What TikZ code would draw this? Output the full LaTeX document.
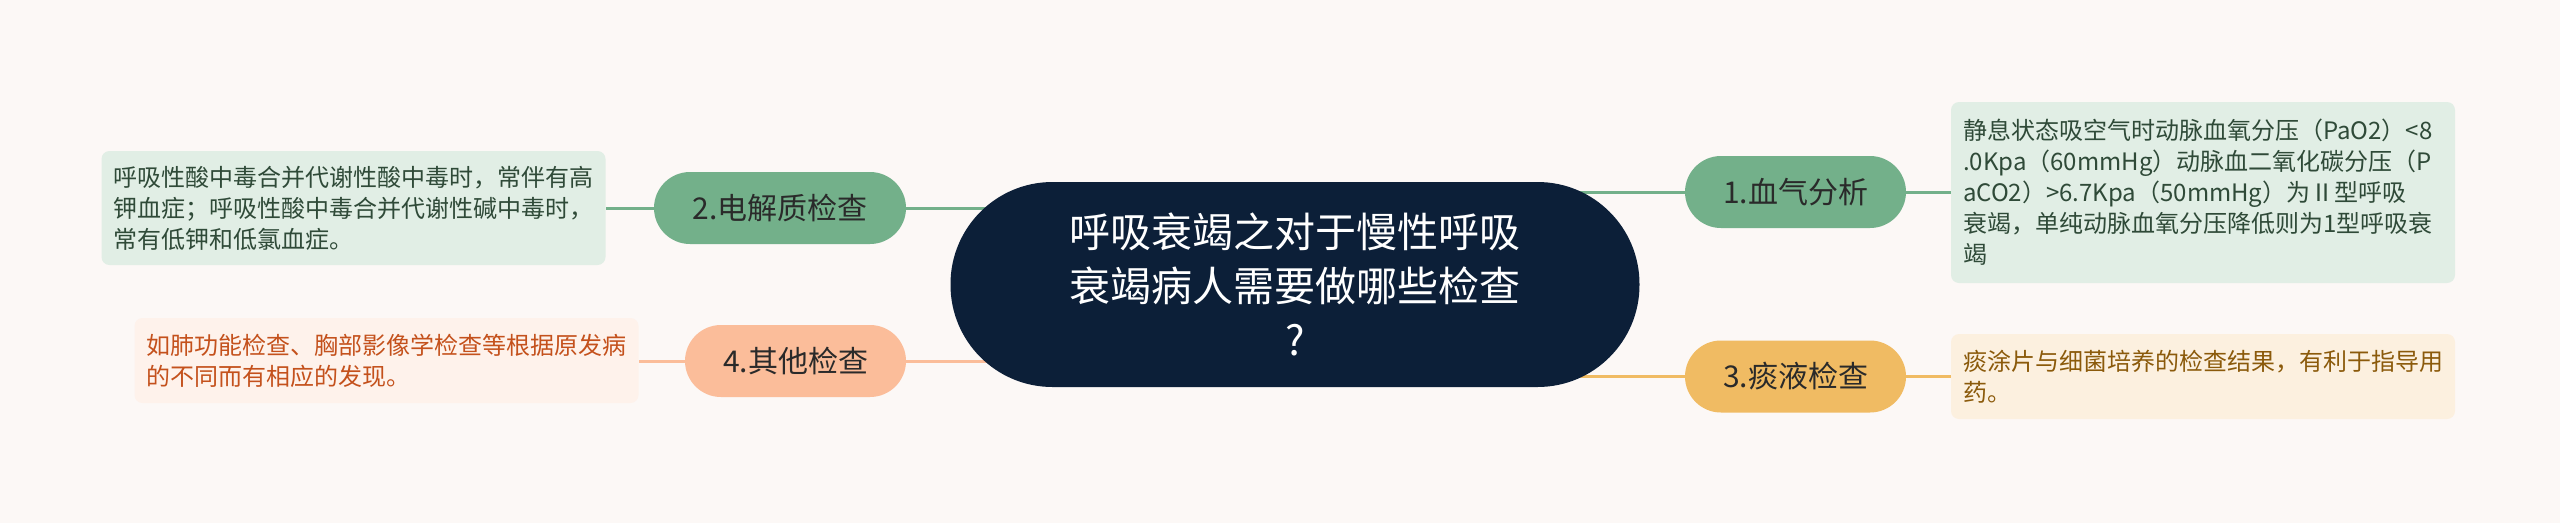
\documentclass[tikz,border=0pt]{standalone}
\usepackage{fontspec}
\setmainfont{Noto Sans CJK SC}
\usetikzlibrary{backgrounds}
\definecolor{bgc}{HTML}{FCF8F6}
\definecolor{navy}{HTML}{0C1F38}
\definecolor{gnode}{HTML}{73B08A}
\definecolor{gbox}{HTML}{E1EEE5}
\definecolor{gtext}{HTML}{2F4A38}
\definecolor{onode}{HTML}{F0BB63}
\definecolor{obox}{HTML}{FCF0DF}
\definecolor{otext}{HTML}{8B5A0B}
\definecolor{pnode}{HTML}{FBBD9A}
\definecolor{pbox}{HTML}{FEF2EB}
\definecolor{ptext}{HTML}{C4511C}
\definecolor{ntext}{HTML}{2A2A2A}
\begin{document}
\begin{tikzpicture}[x=1pt,y=-1pt,
  central/.style={fill=navy, text=white, rounded corners=102pt, minimum width=689pt,
    minimum height=205pt, align=center, inner sep=0pt, font=\fontsize{41}{54}\selectfont},
  topic/.style={rounded corners=36pt, minimum height=72pt, inner sep=0pt, text=ntext,
    font=\fontsize{30}{36}\selectfont},
  detail/.style={rounded corners=8pt, inner xsep=12pt, inner ysep=0pt, align=left,
    text width=480pt, font=\fontsize{24}{31}\selectfont},
  conn/.style={line width=3pt}
]
\useasboundingbox (0,0) rectangle (2560,523);

\node[central] (c) at (1295,284.5) {呼吸衰竭之对于慢性呼吸\\衰竭病人需要做哪些检查\\?};

\node[topic, fill=gnode, minimum width=221pt] (n1) at (1795.5,192) {1.血气分析};
\node[topic, fill=gnode, minimum width=252pt] (n2) at (780,208) {2.电解质检查};
\node[topic, fill=onode, minimum width=221pt] (n3) at (1795.5,376.5) {3.痰液检查};
\node[topic, fill=pnode, minimum width=221pt] (n4) at (795.5,361) {4.其他检查};

\node[detail, fill=gbox, text=gtext, minimum height=181pt] (d1) at (2203,192.5)
  {静息状态吸空气时动脉血氧分压（PaO2）<8\\.0Kpa（60mmHg）动脉血二氧化碳分压（P\\aCO2）>6.7Kpa（50mmHg）为Ⅱ型呼吸\\衰竭，单纯动脉血氧分压降低则为1型呼吸衰\\竭};
\node[detail, fill=gbox, text=gtext, minimum height=114pt] (d2) at (353.5,208)
  {呼吸性酸中毒合并代谢性酸中毒时，常伴有高\\钾血症；呼吸性酸中毒合并代谢性碱中毒时，\\常有低钾和低氯血症。};
\node[detail, fill=obox, text=otext, minimum height=85pt] (d3) at (2203,376.5)
  {痰涂片与细菌培养的检查结果，有利于指导用\\药。};
\node[detail, fill=pbox, text=ptext, minimum height=85pt] (d4) at (386.5,360.5)
  {如肺功能检查、胸部影像学检查等根据原发病\\的不同而有相应的发现。};

\begin{scope}[on background layer]
\fill[bgc] (0,0) rectangle (2560,523);
\draw[conn, gnode] (c.center |- n1.west) -- (n1.west);
\draw[conn, gnode] (n1.east) -- (d1.west |- n1.east);
\draw[conn, gnode] (c.center |- n2.east) -- (n2.east);
\draw[conn, gnode] (n2.west) -- (d2.east |- n2.west);
\draw[conn, onode] (c.center |- n3.west) -- (n3.west);
\draw[conn, onode] (n3.east) -- (d3.west |- n3.east);
\draw[conn, pnode] (c.center |- n4.east) -- (n4.east);
\draw[conn, pnode] (n4.west) -- (d4.east |- n4.west);
\end{scope}
\end{tikzpicture}
\end{document}
